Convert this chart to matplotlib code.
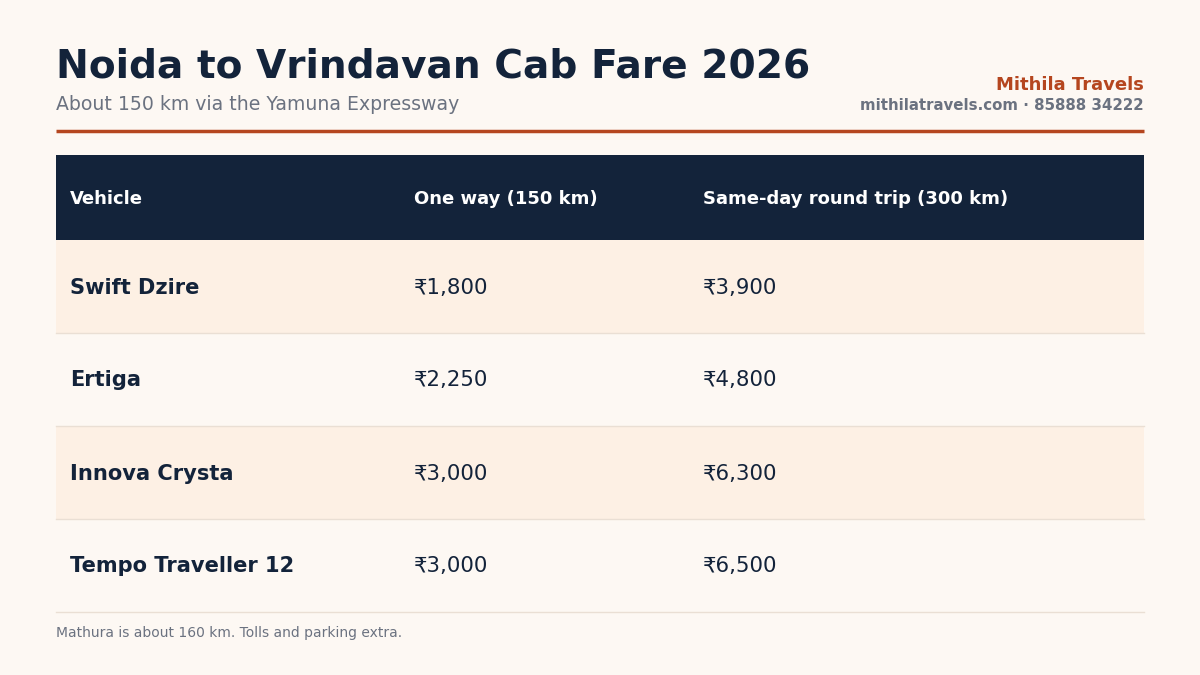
import matplotlib
matplotlib.use("Agg")
import matplotlib.pyplot as plt
from matplotlib.patches import Rectangle

BG = "#FDF8F3"
NAVY = "#13233A"
STRIPE = "#FDF0E4"
ACCENT = "#B5461F"
MUTED = "#6B7280"
RULE = "#EADFD4"

headers = ["Vehicle", "One way (150 km)", "Same-day round trip (300 km)"]
vehicles = ["Swift Dzire", "Ertiga", "Innova Crysta", "Tempo Traveller 12"]
one_way = [1800, 2250, 3000, 3000]
round_trip = [3900, 4800, 6300, 6500]

plt.rcParams["font.family"] = ["DejaVu Sans"]
fig = plt.figure(figsize=(12, 6.75), dpi=100)
fig.patch.set_facecolor(BG)
ax = fig.add_axes([0, 0, 1, 1])
ax.set_xlim(0, 1200)
ax.set_ylim(675, 0)
ax.axis("off")

# title block
ax.text(56, 66, "Noida to Vrindavan Cab Fare 2026", fontsize=28.2, fontweight="bold",
        color=NAVY, va="center", ha="left")
ax.text(56, 105, "About 150 km via the Yamuna Expressway", fontsize=13.6,
        color=MUTED, va="center", ha="left")
ax.text(1144, 85, "Mithila Travels", fontsize=13, fontweight="bold",
        color=ACCENT, va="center", ha="right")
ax.text(1144, 105, "mithilatravels.com · 85888 34222", fontsize=10.85, fontweight="bold",
        color=MUTED, va="center", ha="right")
ax.plot([56, 1144], [130.5, 130.5], color=ACCENT, lw=2.5, solid_capstyle="butt")

# table
left, right = 56, 1144
head_top, head_h, row_h = 155, 85, 93
col_x = [70, 414, 703]
ax.add_patch(Rectangle((left, head_top), right - left, head_h, color=NAVY, lw=0))
for x, h in zip(col_x, headers):
    ax.text(x, head_top + head_h / 2 + 1, h, fontsize=13, fontweight="bold",
            color="white", va="center", ha="left")

for i, (v, a, b) in enumerate(zip(vehicles, one_way, round_trip)):
    top = head_top + head_h + i * row_h
    if i % 2 == 0:
        ax.add_patch(Rectangle((left, top), right - left, row_h, color=STRIPE, lw=0))
    ax.plot([left, right], [top + row_h, top + row_h], color=RULE, lw=1)
    yc = top + row_h / 2 + 1
    ax.text(col_x[0], yc, v, fontsize=15.1, fontweight="bold", color=NAVY,
            va="center", ha="left")
    ax.text(col_x[1], yc, f"₹{a:,}", fontsize=15.3, color=NAVY, va="center", ha="left")
    ax.text(col_x[2], yc, f"₹{b:,}", fontsize=15.3, color=NAVY, va="center", ha="left")

ax.text(56, 633, "Mathura is about 160 km. Tolls and parking extra.", fontsize=10,
        color=MUTED, va="center", ha="left")

fig.savefig("out.png", dpi=100, facecolor=BG)
